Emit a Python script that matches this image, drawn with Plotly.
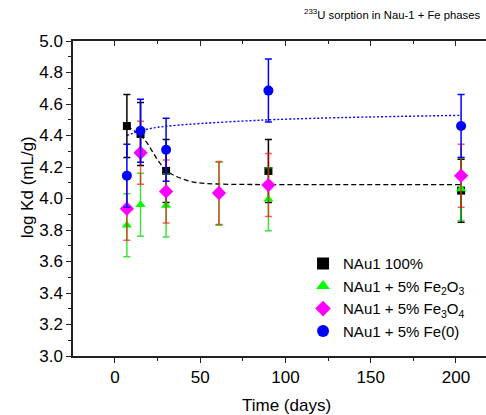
import plotly.graph_objects as go

# ---- data ----
days = [7, 15, 30, 61, 90, 203]
nau1 = [4.46, 4.41, 4.175, None, 4.175, 4.05]
fe2o3 = [3.83, 3.96, 3.955, 4.03, 3.995, 4.06]
fe3o4 = [3.935, 4.29, 4.045, 4.035, 4.085, 4.145]
fe0 = [4.145, 4.43, 4.31, None, 4.685, 4.46]
err_nau1 = [0.2, 0.2, 0.2, 0.2, 0.2, 0.2]
err_fe2o3 = [0.2, 0.2, 0.2, 0.2, 0.2, 0.2]
err_fe3o4 = [0.2, 0.2, 0.2, 0.2, 0.2, 0.2]
err_fe0 = [0.2, 0.2, 0.2, 0.2, 0.2, 0.2]

fit_nau1_x = [7, 15, 19, 23, 26, 31, 37, 47, 60, 80, 120, 160, 203]
fit_nau1_y = [4.46, 4.40, 4.35, 4.28, 4.23, 4.17, 4.135, 4.103, 4.092, 4.089, 4.088, 4.088, 4.088]
fit_fe0_x = [7, 15, 25, 85, 203]
fit_fe0_y = [4.40, 4.43, 4.452, 4.497, 4.528]

names = ["NAu1 100%", "NAu1 + 5% Fe<sub>2</sub>O<sub>3</sub>",
         "NAu1 + 5% Fe<sub>3</sub>O<sub>4</sub>", "NAu1 + 5% Fe(0)"]

FONT = "Liberation Sans, Arial, sans-serif"
fig = go.Figure()

# fit curves
fig.add_trace(go.Scatter(x=fit_nau1_x, y=fit_nau1_y, mode="lines", line_shape="spline",
                         line=dict(color="black", width=1.3, dash="5px,3px"),
                         showlegend=False, hoverinfo="skip"))
fig.add_trace(go.Scatter(x=fit_fe0_x, y=fit_fe0_y, mode="lines", line_shape="spline",
                         line=dict(color="#0000ff", width=1.4, dash="2px,2px"),
                         showlegend=False, hoverinfo="skip"))

def series(y, err, name, sym, size, mcol, ecol):
    fig.add_trace(go.Scatter(
        x=days, y=y, name=name, mode="markers",
        marker=dict(symbol=sym, size=size, color=mcol, line=dict(width=0)),
        error_y=dict(type="data", array=err, visible=True, color=ecol,
                     thickness=1.5, width=3.5),
    ))

series(nau1, err_nau1, names[0], "square", 8, "black", "black")
series(fe2o3, err_fe2o3, names[1], "triangle-up", 9, "#00ff00", "rgba(0,215,0,0.75)")
series(fe3o4, err_fe3o4, names[2], "diamond", 11, "#ff00ff", "rgba(255,0,0,0.65)")
series(fe0, err_fe0, names[3], "circle", 10, "#0000ff", "#0000ff")

axcol = "#222222"
fig.update_layout(
    width=486, height=415,
    margin=dict(l=73, r=0, t=41, b=59),
    paper_bgcolor="white", plot_bgcolor="white",
    font=dict(family=FONT, size=17, color="black"),
    showlegend=True,
    legend=dict(x=0.557, y=0.345, xanchor="left", yanchor="top",
                bgcolor="rgba(0,0,0,0)", borderwidth=0,
                font=dict(family=FONT, size=15, color="black"),
                itemsizing="constant", tracegroupgap=0),
    xaxis=dict(range=[-24.6, 217.6], showgrid=False, zeroline=False,
               showline=True, linecolor=axcol, linewidth=1.5,
               ticks="outside", ticklen=5, tickwidth=1.2, tickcolor=axcol,
               tick0=0, dtick=50,
               minor=dict(ticks="outside", ticklen=3, dtick=25, tick0=0, tickcolor=axcol, tickwidth=1.2),
               tickfont=dict(family=FONT, size=17)),
    xaxis2=dict(range=[-24.6, 217.6], overlaying="x", side="top", anchor="y",
                showgrid=False, zeroline=False, showticklabels=False,
                showline=True, linecolor=axcol, linewidth=1.5,
                ticks="inside", ticklen=5, tickwidth=1.2, tickcolor=axcol,
                tick0=0, dtick=50,
                minor=dict(ticks="inside", ticklen=3, dtick=25, tick0=0, tickcolor=axcol, tickwidth=1.2)),
    yaxis=dict(range=[3.0, 5.0], showgrid=False, zeroline=False,
               showline=True, linecolor=axcol, linewidth=1.5,
               ticks="outside", ticklen=5, tickwidth=1.2, tickcolor=axcol,
               tick0=3.0, dtick=0.2, tickformat=".1f",
               minor=dict(ticks="outside", ticklen=3, dtick=0.1, tickcolor=axcol, tickwidth=1.2),
               tickfont=dict(family=FONT, size=17)),
    annotations=[
        dict(text="Time (days)", xref="paper", yref="paper",
             x=(286.5 - 73) / 413, y=-(405 - 355.7) / 315, xanchor="center", yanchor="middle",
             showarrow=False, font=dict(family=FONT, size=17)),
        dict(text="log Kd (mL/g)", xref="paper", yref="paper",
             x=-(73 - 27) / 413, y=(355.7 - 187) / 315, xanchor="center", yanchor="middle",
             textangle=-90, showarrow=False, font=dict(family=FONT, size=17)),
        dict(text="<sup>233</sup>U sorption in Nau-1 + Fe phases", xref="paper", yref="paper",
             x=(483 - 73) / 413, y=(355.7 - 14) / 315, xanchor="right", yanchor="middle",
             showarrow=False, font=dict(family=FONT, size=11.3)),
    ],
)

# anchor top axis with an invisible trace so it is always drawn
fig.add_trace(go.Scatter(x=[None], y=[None], xaxis="x2", showlegend=False, hoverinfo="skip"))

fig.write_html("out.html", config={"displayModeBar": False},
               post_script="document.body.style.margin='0';document.body.style.overflow='hidden';")
